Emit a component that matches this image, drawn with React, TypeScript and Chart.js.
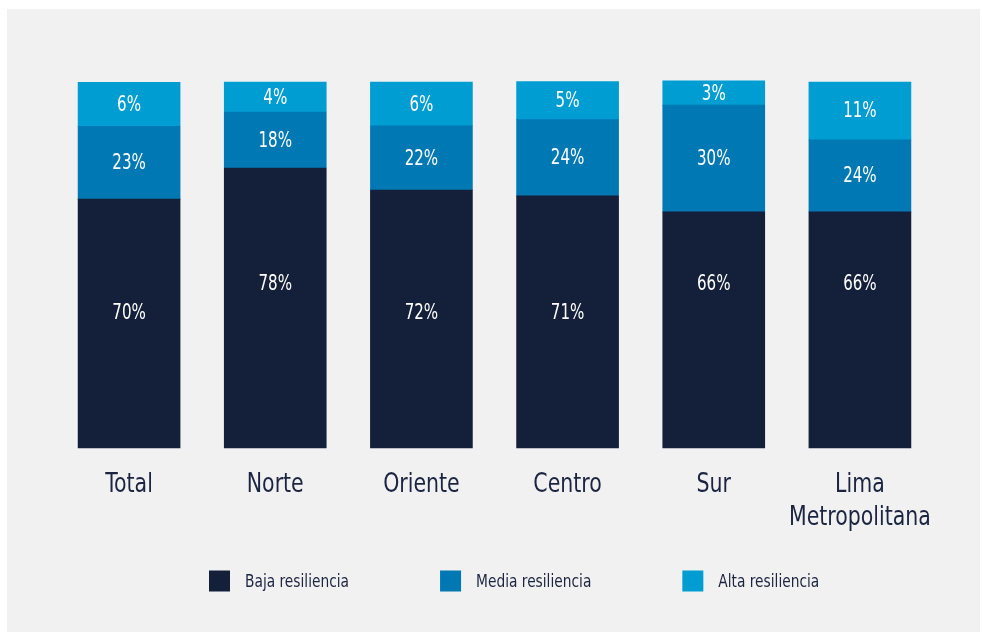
import { useEffect, useRef } from "react";
import { Chart, registerables } from "chart.js";

Chart.register(...registerables);

// ---------- DATA ----------
const categories: (string | string[])[] = ["Total", "Norte", "Oriente", "Centro", "Sur", ["Lima", "Metropolitana"]];
const seriesNames = ["Baja resiliencia", "Media resiliencia", "Alta resiliencia"];

// Printed percentages (labels on the bars)
const bajaPct = [70, 78, 72, 71, 66, 66];
const mediaPct = [23, 18, 22, 24, 30, 24];
const altaPct = [6, 4, 6, 5, 3, 11];

const bajaBar = [68.0, 76.5, 70.5, 68.9, 64.5, 64.5];
const mediaBar = [19.9, 15.3, 17.5, 20.8, 29.2, 19.7];
const altaBar = [12.0, 8.2, 12.0, 10.4, 6.6, 15.8];

// ---------- LAYOUT / STYLE ----------
const bajaLabelLevel = [37, 45, 37, 37, 45, 45]; // vertical anchor of the "Baja" labels (y units)
const FONT = "'DejaVu Sans Condensed', 'DejaVu Sans', sans-serif";
const TEXT = "#1b2541";
const COLORS = ["#14203a", "#0078b4", "#009dd2"];

function narrowText(ctx: CanvasRenderingContext2D, text: string, x: number, y: number, sx: number) {
  ctx.save();
  ctx.translate(x, y);
  ctx.scale(sx, 1);
  ctx.fillText(text, 0, 0);
  ctx.restore();
}

const barLabelPlugin = {
  id: "barLabels",
  afterDatasetsDraw(chart: any) {
    const { ctx } = chart;
    const pcts = [bajaPct, mediaPct, altaPct];
    ctx.save();
    ctx.font = `21.5px ${FONT}`;
    ctx.fillStyle = "#ffffff";
    ctx.textAlign = "center";
    ctx.textBaseline = "middle";
    chart.data.datasets.forEach((_ds: any, di: number) => {
      const meta = chart.getDatasetMeta(di);
      meta.data.forEach((bar: any, i: number) => {
        const { x, y, base } = bar.getProps(["x", "y", "base"], true);
        let cy = (y + base) / 2;
        if (di === 0) cy = chart.scales.y.getPixelForValue(bajaLabelLevel[i]);
        narrowText(ctx, `${pcts[di][i]}%`, x, cy + 1, 0.78);
      });
    });
    ctx.restore();
  },
};

const xLabelPlugin = {
  id: "xLabels",
  afterDraw(chart: any) {
    const { ctx, chartArea } = chart;
    const xs = chart.scales.x;
    ctx.save();
    ctx.font = `26.5px ${FONT}`;
    ctx.fillStyle = TEXT;
    ctx.textAlign = "center";
    ctx.textBaseline = "middle";
    (chart.data.labels as any[]).forEach((lab: any, i: number) => {
      const lines = Array.isArray(lab) ? lab : [lab];
      const x = xs.getPixelForTick(i);
      lines.forEach((ln: string, li: number) => {
        narrowText(ctx, ln, x, chartArea.bottom + 37 + li * 33, 0.86);
      });
    });
    ctx.restore();
  },
};

const legendPlugin = {
  id: "customLegend",
  afterDraw(chart: any) {
    const { ctx, chartArea } = chart;
    const sx = 0.875;
    ctx.save();
    ctx.font = `17.5px ${FONT}`;
    ctx.textBaseline = "middle";
    ctx.textAlign = "left";
    let x = chartArea.left + 153;
    const y = chartArea.bottom + 133;
    chart.data.datasets.forEach((ds: any) => {
      ctx.fillStyle = ds.backgroundColor;
      ctx.fillRect(x, y - 10.5, 21, 21);
      ctx.fillStyle = TEXT;
      narrowText(ctx, ds.label, x + 36, y + 1, sx);
      x += 36 + ctx.measureText(ds.label).width * sx + 91;
    });
    ctx.restore();
  },
};

export default function App() {
  const ref = useRef<HTMLCanvasElement>(null);

  useEffect(() => {
    const bars = [bajaBar, mediaBar, altaBar];
    const chart = new Chart(ref.current as HTMLCanvasElement, {
      type: "bar",
      data: {
        labels: categories as any,
        datasets: seriesNames.map((name, i) => ({
          label: name,
          data: bars[i],
          backgroundColor: COLORS[i],
          borderWidth: 0,
          barThickness: 102,
          clip: false as any,
        })),
      },
      options: {
        animation: false,
        responsive: true,
        maintainAspectRatio: false,
        layout: { padding: { left: 49, right: 47, top: 73, bottom: 0 } },
        plugins: {
          legend: { display: false },
          tooltip: { enabled: false },
        },
        scales: {
          x: {
            stacked: true,
            grid: { display: false, drawTicks: false },
            border: { display: false },
            ticks: { display: false, autoSkip: false },
            afterFit: (scale: any) => {
              scale.height = 184;
            },
          },
          y: {
            stacked: true,
            display: false,
            min: 0,
            max: 100,
          },
        },
      },
      plugins: [barLabelPlugin, xLabelPlugin, legendPlugin],
    });
    return () => chart.destroy();
  }, []);

  return (
    <div
      style={{
        position: "absolute",
        left: 7,
        top: 9,
        width: 973,
        height: 623,
        background: "#f1f1f1",
      }}
    >
      <canvas ref={ref} />
    </div>
  );
}
